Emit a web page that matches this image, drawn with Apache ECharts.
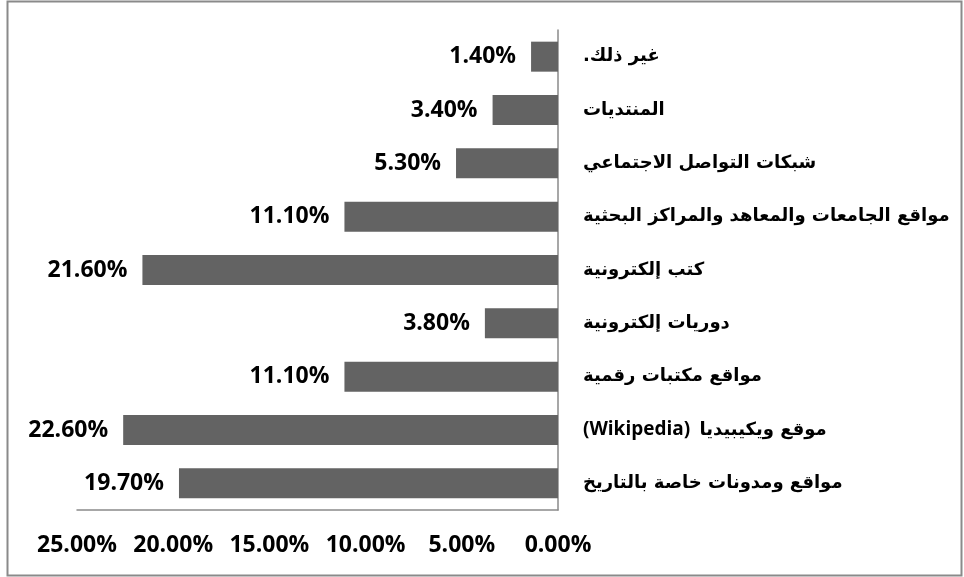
<!DOCTYPE html>
<html>
<head>
<meta charset="utf-8">
<script src="https://cdn.jsdelivr.net/npm/echarts@6/dist/echarts.min.js"></script>
<style>html,body{margin:0;padding:0;background:#fff}#c{width:964px;height:577px}</style>
</head>
<body>
<div id="c"></div>
<script>
const categories = [
  "غير ذلك.",
  "المنتديات",
  "شبكات التواصل الاجتماعي",
  "مواقع الجامعات والمعاهد والمراكز البحثية",
  "كتب إلكترونية",
  "دوريات إلكترونية",
  "مواقع مكتبات رقمية",
  "موقع ويكيبيديا (Wikipedia)",
  "مواقع ومدونات خاصة بالتاريخ"
];
const values = [1.4, 3.4, 5.3, 11.1, 21.6, 3.8, 11.1, 22.6, 19.7];
const axisMin = 0, axisMax = 25, axisStep = 5;

const chart = echarts.init(document.getElementById('c'), null, {renderer: 'canvas'});
const numFont = "'Open Sans', 'DejaVu Sans', sans-serif";
const catFont = "'DejaVu Sans', sans-serif";
function catLabel(v) {
  const m = v.match(/^(.*?)\s*(\([A-Za-z ]+\))$/);
  if (m) {
    return '{en|' + m[2] + '}{sp|  }{ar|\u202B' + m[1] + '\u202C}';
  }
  return '{ar|\u202B' + v + '\u202C}';
}
chart.setOption({
  animation: false,
  backgroundColor: '#fff',
  graphic: [{
    type: 'rect', shape: {x: 7.5, y: 1.5, width: 954, height: 574},
    style: {fill: 'none', stroke: '#8a8a8a', lineWidth: 2}, silent: true
  }],
  grid: {left: 77, right: 406, top: 30, bottom: 67, containLabel: false},
  xAxis: {
    type: 'value', min: axisMin, max: axisMax, interval: axisStep, inverse: true,
    splitLine: {show: false},
    axisTick: {show: false},
    axisLine: {show: true, lineStyle: {color: '#8a8a8a', width: 1.5}},
    axisLabel: {
      margin: 24, color: '#000', fontWeight: 'bold', fontSize: 23, fontFamily: numFont,
      formatter: v => v.toFixed(2) + '%'
    }
  },
  yAxis: {
    type: 'category', data: categories, inverse: true, position: 'right',
    axisTick: {show: false},
    axisLine: {show: true, lineStyle: {color: '#8a8a8a', width: 1.5}},
    axisLabel: {
      margin: 25, align: 'left', color: '#000', fontWeight: 'bold', fontSize: 18, fontFamily: catFont,
      formatter: catLabel,
      rich: {
        ar: {fontFamily: catFont, fontWeight: 'bold', fontSize: 18, color: '#000'},
        sp: {fontFamily: numFont, fontSize: 18},
        en: {fontFamily: numFont, fontWeight: 'bold', fontSize: 19, color: '#000'}
      }
    }
  },
  series: [{
    type: 'bar', data: values, barWidth: 30,
    itemStyle: {color: '#636363'},
    label: {
      show: true, position: 'left', distance: 15, color: '#000', fontWeight: 'bold',
      fontSize: 23, fontFamily: numFont, formatter: p => p.value.toFixed(2) + '%'
    }
  }]
});
</script>
</body>
</html>
